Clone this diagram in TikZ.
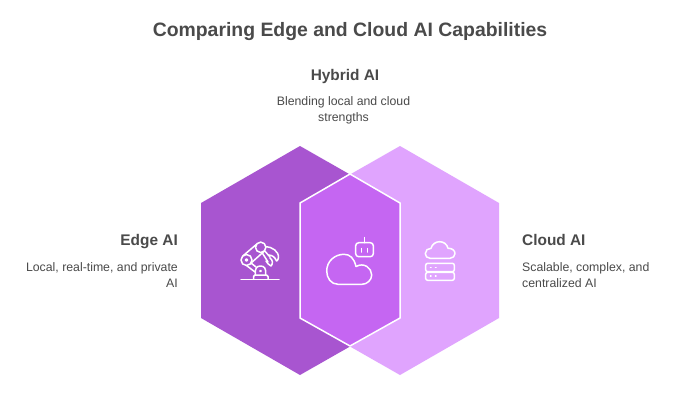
\documentclass[tikz,border=0pt]{standalone}
\usepackage{fontspec}
\setmainfont{Liberation Sans}
\definecolor{txt}{HTML}{4A4A4A}
\definecolor{edgec}{HTML}{A855D0}
\definecolor{hybridc}{HTML}{C566F2}
\definecolor{cloudc}{HTML}{E0A4FE}
\tikzset{
  titletxt/.style={text=txt,font=\fontsize{19.4}{24}\selectfont\bfseries,inner sep=0pt},
  headtxt/.style={text=txt,font=\fontsize{15.4}{19}\selectfont\bfseries,inner sep=0pt},
  bodytxt/.style={text=txt,font=\fontsize{12.3}{16}\selectfont,inner sep=0pt},
  icon/.style={draw=white,line width=1.5pt,line cap=round,line join=round,fill=none}
}
\begin{document}
\begin{tikzpicture}[x=1pt,y=-1pt]
\useasboundingbox (0,0) rectangle (700,400);
\fill[white] (0,0) rectangle (700,400);
\fill[cloudc] (400,146) -- (499,203) -- (499,318) -- (400,375) -- (300,318) -- (300,203) -- cycle;
\fill[edgec] (300,146) -- (400,203) -- (400,318) -- (300,375) -- (201,318) -- (201,203) -- cycle;
\fill[hybridc,draw=white,line width=1.5pt,line join=miter] (300,203) -- (350,174) -- (400,203) -- (400,318) -- (350,346) -- (300,318) -- cycle;
\node[titletxt,anchor=base] (title) at (350,36.5) {Comparing Edge and Cloud AI Capabilities};
\node[headtxt,anchor=base] (hh) at (345,80.5) {Hybrid AI};
\node[bodytxt,align=center] (hb) at (343.5,110.5) {Blending local and cloud\\strengths};
\node[headtxt,anchor=base east] (eh) at (178,245.5) {Edge AI};
\node[bodytxt,align=right,anchor=north east] (eb) at (178,262.5) {Local, real-time, and private\\AI};
\node[headtxt,anchor=base west] (ch) at (522,245.5) {Cloud AI};
\node[bodytxt,align=left,anchor=north west] (cb) at (522,262.5) {Scalable, complex, and\\centralized AI};
% robot arm icon
\draw[icon] (241,279.5) -- (279,279.5);
\draw[icon] (253.5,279) -- (253.5,276.5) .. controls (253.5,275.5) and (254,275) .. (255,275) -- (266.5,275) .. controls (267.5,275) and (268,275.5) .. (268,276.5) -- (268,279);
\draw[icon] (255.5,275) .. controls (254.5,268) and (257,266) .. (260.5,266) .. controls (264,266) and (266.5,268) .. (265.5,275);
\draw[icon] (260.5,271) circle (0.7);
\draw[icon] (246.5,260) circle (5.5);
\draw[icon] (246.5,260) circle (1);
\draw[icon] (260.7,247.3) circle (5.2);
\draw[icon] (243,255.8) -- (256.5,244.3);
\draw[icon] (250.5,263.5) -- (264.5,251);
\draw[icon] (251,263) -- (256,267);
\draw[icon] (246.5,265.5) -- (255,272);
\draw[icon] (264.8,251) -- (270,257);
\draw[icon] (262,252.5) -- (268,262);
\draw[icon] (265.5,246.5) .. controls (272,247) and (279,251) .. (278.5,258) .. controls (278,260) and (277,261) .. (276.5,261) .. controls (275,257) and (272,255) .. (268.5,255);
\draw[icon] (270,258) .. controls (273,260) and (273,264) .. (271,266) .. controls (269,265) and (267,263) .. (266,261);
% hybrid icon
\draw[icon] (338,284.3) .. controls (331,284.3) and (326.7,278) .. (326.7,271) .. controls (326.7,261) and (335,254.3) .. (344,254.3) .. controls (350,254.3) and (354,258) .. (356,266.5) .. controls (364,262) and (371.7,268) .. (371.7,275) .. controls (371.7,280) and (367,284.3) .. (362,284.3) -- cycle;
\draw[icon,rounded corners=3pt] (355.7,242.7) rectangle (373.3,256.7);
\draw[icon] (364.5,242.7) -- (364.5,237.5);
\draw[icon] (361.7,248.5) -- (361.7,252);
\draw[icon] (367.7,248.5) -- (367.7,252);
% cloud and servers icon
\draw[icon] (430,258.3) .. controls (427,258.3) and (425.3,256) .. (425.3,253.5) .. controls (425.3,250.5) and (428,248) .. (431,248.3) .. controls (432,244) and (436,241.7) .. (439.5,241.7) .. controls (443.5,241.7) and (447,244) .. (448,248.3) .. controls (452,248) and (455,250.5) .. (455,253.5) .. controls (455,256) and (453,258.3) .. (450,258.3) -- cycle;
\draw[icon,rounded corners=2pt] (425.7,263.3) rectangle (454.3,271.7);
\draw[icon,rounded corners=2pt] (425.7,272.3) rectangle (454.3,280.3);
\draw[icon] (430.4,267.3) -- (431,267.3) (435.4,267.3) -- (436,267.3);
\draw[icon] (430.4,275.9) -- (431,275.9) (435.4,275.9) -- (436,275.9);
\end{tikzpicture}
\end{document}
